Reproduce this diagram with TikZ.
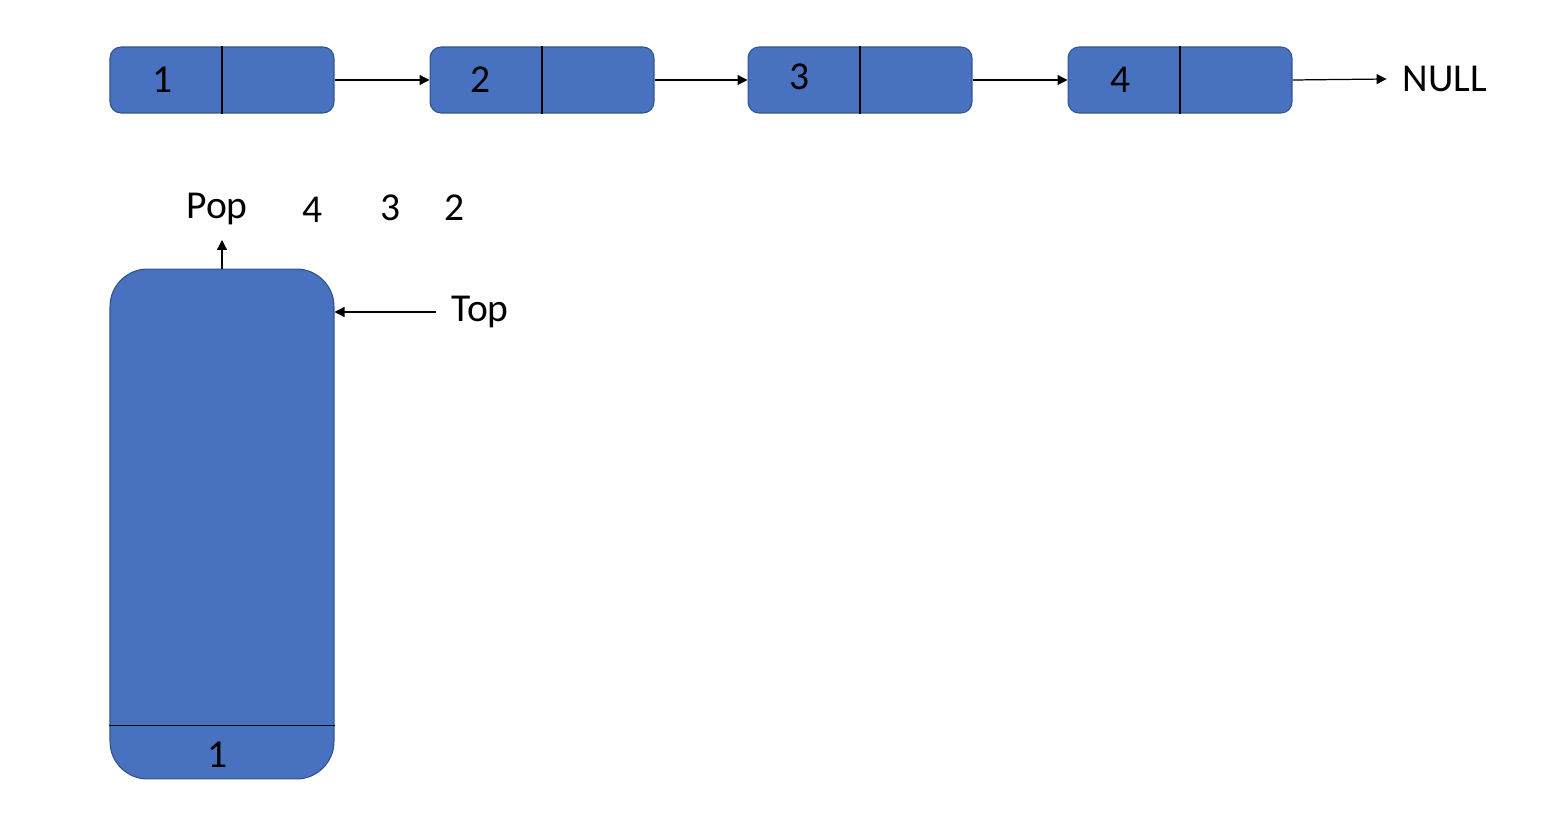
\documentclass[tikz,border=0pt]{standalone}
\usepackage{fontspec}
\setmainfont{Carlito}
\definecolor{nodeblue}{RGB}{72,114,192}
\definecolor{edgeblue}{RGB}{47,82,143}
\usetikzlibrary{arrows.meta,positioning,calc}

\begin{document}
\begin{tikzpicture}[x=0.02cm, y=-0.02cm,
    listnode/.style={rectangle, draw=edgeblue, fill=nodeblue, line width=0.6pt,
                minimum width=4.48cm, minimum height=1.32cm, rounded corners=0.22cm},
    stack/.style={rectangle, draw=edgeblue, fill=nodeblue, line width=0.6pt,
                minimum width=4.48cm, minimum height=10.2cm, rounded corners=0.75cm},
    val/.style={font=\fontsize{22.5}{27}\selectfont},
    lbl/.style={font=\fontsize{22.5}{27}\selectfont},
    arrow/.style={-{Triangle[length=0.2cm, width=0.2cm]}, line width=0.7pt}]

    \useasboundingbox (0,0) rectangle (1562,814);

    % linked list
    \node[listnode] (n1) at (222,80) {};
    \node[listnode] (n2) at (542,80) {};
    \node[listnode] (n3) at (860,80) {};
    \node[listnode] (n4) at (1180,80) {};
    \draw[line width=0.8pt] (n1.north) -- (n1.south);
    \draw[line width=0.8pt] (n2.north) -- (n2.south);
    \draw[line width=0.8pt] (n3.north) -- (n3.south);
    \draw[line width=0.8pt] (n4.north) -- (n4.south);
    \node[val] (v1) at (163,80) {1};
    \node[val] (v2) at (481,80) {2};
    \node[val] (v3) at (800,77) {3};
    \node[val] (v4) at (1121,80) {4};
    \node[lbl, inner sep=0.32cm] (null) at (1445,79) {NULL};

    \draw[arrow] (n1.east) -- (n2.west);
    \draw[arrow] (n2.east) -- (n3.west);
    \draw[arrow] (n3.east) -- (n4.west);
    \draw[arrow] (n4.east) -- (null.west);

    % stack
    \node[stack] (stk) at (222,524) {};
    \draw[line width=0.8pt] ($(stk.south west)+(0,-54)$) -- ($(stk.south east)+(0,-54)$);
    \node[val] (bottom) at (218,755) {1};

    \node[lbl] (pop) at (217,209) {Pop};
    \coordinate (popend) at (222,240);
    \draw[arrow] (stk.north) -- (popend);
    \node[lbl] (p4) at (313,210) {4};
    \node[lbl] (p3) at (391,208) {3};
    \node[lbl] (p2) at (455,208) {2};

    \node[lbl, inner sep=0.3cm] (top) at (480,312) {Top};
    \draw[arrow] (top.west) -- (stk.east |- top.west);
\end{tikzpicture}
\end{document}
